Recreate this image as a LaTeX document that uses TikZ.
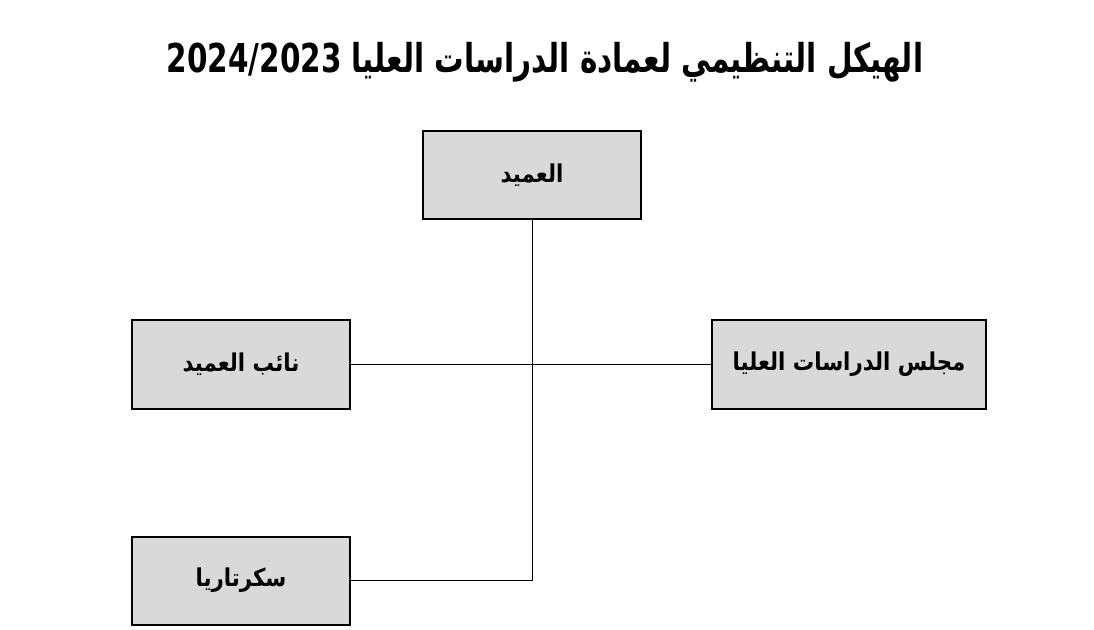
\documentclass[tikz,border=0pt]{standalone}
\usepackage{fontspec}
\usepackage{graphicx}
\usepackage{xcolor}
\usepackage{tikz}
\usetikzlibrary{positioning}
\TeXXeTstate=1
\newfontfamily\arabicfont[Script=Arabic]{DejaVu Sans}
\definecolor{boxgray}{RGB}{217,217,217}
\newcommand{\tall}[2]{\scalebox{1}[#1]{#2}}
\tikzset{unit/.style={draw=black, fill=boxgray, line width=1.5pt, minimum height=66pt, inner sep=0pt, font=\arabicfont\bfseries\fontsize{16}{18}\selectfont}}

\begin{document}
\begin{tikzpicture}[x=0.75pt, y=-0.75pt, thin]
		\useasboundingbox (0,0) rectangle (1094,630);
		\node (T) at (545,62) {\arabicfont\bfseries\fontsize{22.1}{26}\selectfont\tall{1.35}{\beginR الهيكل التنظيمي لعمادة الدراسات العليا \beginL2024/2023\endL\endR}};
		\node[unit, minimum width=163.5pt] (D) at (532,175) {\tall{1.15}{\beginR العميد\endR}};
		\node[unit, minimum width=163.5pt] (V) at (241,364.5) {\tall{1.15}{\beginR نائب العميد\endR}};
		\node[unit, minimum width=205.5pt] (C) at (849,364.5) {\tall{1.15}{\beginR مجلس الدراسات العليا\endR}};
		\node[unit, minimum width=163.5pt] (S) at (241,580.5) {\tall{1.15}{\beginR سكرتاريا\endR}};
		
		\draw (D.south) -- (D.south |- S.east) -- (S.east);
		\draw (V.east) -- (C.west);
	\end{tikzpicture}
\end{document}
